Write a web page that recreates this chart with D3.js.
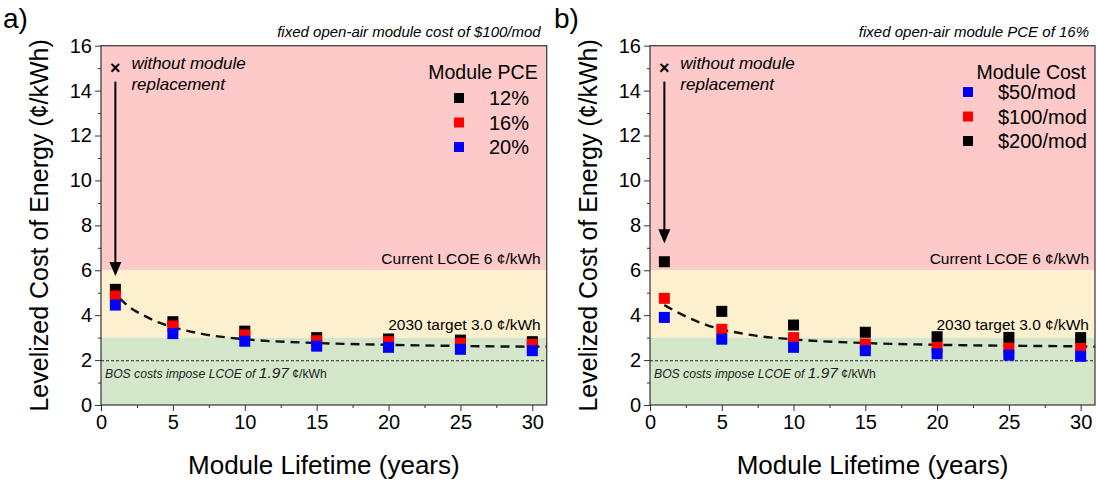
<!DOCTYPE html>
<html>
<head>
<meta charset="utf-8">
<script src="https://cdn.jsdelivr.net/npm/d3@7"></script>
<style>
  body { margin: 0; background: #fff; }
  svg text { font-family: "Liberation Sans", Arial, sans-serif; }
</style>
</head>
<body>
<svg id="chart" width="1097" height="484"></svg>
<script>
// lifetimes (years)
const lifetimes = [1, 5, 10, 15, 20, 25, 30];

// panel a: module PCE series
const pce12 = [5.15, 3.71, 3.29, 3.0, 2.94, 2.89, 2.82];
const pce16 = [4.85, 3.52, 3.12, 2.86, 2.82, 2.75, 2.70];
const pce20 = [4.45, 3.18, 2.84, 2.62, 2.57, 2.48, 2.42];

// panel b: module cost series
const cost50 = [3.90, 2.93, 2.57, 2.42, 2.28, 2.22, 2.17];
const cost100 = [4.75, 3.37, 3.00, 2.72, 2.57, 2.53, 2.52];
const cost200 = [6.38, 4.17, 3.56, 3.24, 3.04, 3.01, 3.00];

// dashed trend line
const trendA = [[1.3, 4.75], [2, 4.35], [3, 3.98], [4, 3.68], [5, 3.47], [7, 3.17], [10, 2.93], [15, 2.76], [20, 2.68], [25, 2.63], [30, 2.6], [31, 2.6]];
const trendB = [[1.0, 4.45], [2, 4.1], [3, 3.8], [4, 3.55], [5, 3.37], [7, 3.12], [10, 2.92], [15, 2.76], [20, 2.68], [25, 2.64], [30, 2.61], [31, 2.6]];

const xTicks = [0, 5, 10, 15, 20, 25, 30];
const yTicks = [0, 2, 4, 6, 8, 10, 12, 14, 16];
const currentLCOE = 6, target2030 = 3.0, bosLCOE = 1.97;

const svg = d3.select('#chart');

function drawPanel(opt) {
    const x = d3.scaleLinear().domain([0, 31]).range([opt.left, opt.right]);
    const y = d3.scaleLinear().domain([0, 16]).range([405, 45.7]);
    const g = svg.append('g');

    // background bands
    const bands = [[currentLCOE, 16, '#fdc9c9'], [target2030, currentLCOE, '#fdf0cf'], [0, target2030, '#d5e7ca']];
    bands.forEach(b => {
        g.append('rect')
            .attr('x', x(0)).attr('width', x(31) - x(0))
            .attr('y', y(b[1])).attr('height', y(b[0]) - y(b[1]))
            .attr('fill', b[2]);
    });

    // BOS floor line
    g.append('line')
        .attr('x1', x(0)).attr('x2', x(31))
        .attr('y1', y(bosLCOE)).attr('y2', y(bosLCOE))
        .attr('stroke', '#222').attr('stroke-width', 1).attr('stroke-dasharray', '3,2');

    // dashed trend
    g.append('path')
        .datum(opt.trend)
        .attr('d', d3.line().x(d => x(d[0])).y(d => y(d[1])).curve(d3.curveMonotoneX))
        .attr('fill', 'none').attr('stroke', '#111').attr('stroke-width', 2.4)
        .attr('stroke-dasharray', '9,6');

    // markers
    opt.series.forEach(s => {
        g.selectAll(null).data(s.values).enter().append('rect')
            .attr('x', (d, i) => x(lifetimes[i]) - 5.5)
            .attr('y', d => y(d) - 5.5)
            .attr('width', 11).attr('height', 11)
            .attr('fill', s.color);
    });

    // zone labels
    g.append('text').attr('x', x(31) - 6).attr('y', y(currentLCOE) - 6)
        .attr('text-anchor', 'end').attr('font-size', 15.5).text('Current LCOE 6 ¢/kWh');
    g.append('text').attr('x', x(31) - 6).attr('y', y(target2030) - 8)
        .attr('text-anchor', 'end').attr('font-size', 15.5).text('2030 target 3.0 ¢/kWh');
    const bos = g.append('text').attr('x', x(0) + 4).attr('y', y(bosLCOE) + 17)
        .attr('font-size', 12.2).attr('font-style', 'italic').attr('fill', '#222');
    bos.append('tspan').text('BOS costs impose LCOE of ');
    bos.append('tspan').attr('font-size', 15.5).text('1.97');
    bos.append('tspan').attr('font-style', 'normal').text(' ¢/kWh');

    // no-replacement marker and arrow
    g.append('text').attr('x', x(1)).attr('y', y(15) + 6)
        .attr('text-anchor', 'middle').attr('font-size', 18).attr('font-weight', 'bold').text('×');
    g.append('text').attr('x', x(1) + 16).attr('y', y(15) + 1)
        .attr('font-size', 17).attr('font-style', 'italic').text('without module');
    g.append('text').attr('x', x(1) + 16).attr('y', y(15) + 22)
        .attr('font-size', 17).attr('font-style', 'italic').text('replacement');
    g.append('line').attr('x1', x(1)).attr('x2', x(1))
        .attr('y1', y(14.4)).attr('y2', y(opt.arrowTo) - 12)
        .attr('stroke', '#000').attr('stroke-width', 2);
    g.append('path')
        .attr('d', `M${x(1) - 6},${y(opt.arrowTo) - 14} L${x(1) + 6},${y(opt.arrowTo) - 14} L${x(1)},${y(opt.arrowTo)} Z`)
        .attr('fill', '#000');

    // legend
    g.append('text').attr('x', opt.right - 9).attr('y', 79)
        .attr('text-anchor', 'end').attr('font-size', 19.5).text(opt.legendTitle);
    opt.series.slice().sort((a, b) => a.legendOrder - b.legendOrder).forEach((s, i) => {
        const cy = opt.legendY0 + i * 24.5;
        g.append('rect').attr('x', opt.legendSq - 5).attr('y', cy - 5)
            .attr('width', 10).attr('height', 10).attr('fill', s.color);
        g.append('text').attr('x', opt.legendSq + 30).attr('y', cy + 7)
            .attr('font-size', 20).text(s.label);
    });

    // axes
    const xAxis = d3.axisBottom(x).tickValues(xTicks).tickSize(6).tickPadding(4);
    const xa = g.append('g').attr('transform', 'translate(0,405)').call(xAxis);
    xa.selectAll('text').attr('font-size', 20).attr('fill', '#000');
    xa.select('.domain').remove();
    g.append('g').attr('transform', 'translate(0,405)')
        .call(d3.axisBottom(x).tickValues([2.5, 7.5, 12.5, 17.5, 22.5, 27.5]).tickSize(3).tickFormat(''))
        .select('.domain').remove();

    const yAxis = d3.axisLeft(y).tickValues(yTicks).tickSize(6).tickPadding(3);
    const ya = g.append('g').attr('transform', `translate(${opt.left},0)`).call(yAxis);
    ya.selectAll('text').attr('font-size', 20).attr('fill', '#000');
    ya.select('.domain').remove();
    g.append('g').attr('transform', `translate(${opt.left},0)`)
        .call(d3.axisLeft(y).tickValues([1, 3, 5, 7, 9, 11, 13, 15]).tickSize(3).tickFormat(''))
        .select('.domain').remove();
    g.selectAll('.tick line').attr('stroke', '#333');

    // frame
    g.append('rect').attr('x', x(0)).attr('y', y(16))
        .attr('width', x(31) - x(0)).attr('height', y(0) - y(16))
        .attr('fill', 'none').attr('stroke', '#333').attr('stroke-width', 1.2);

    // titles
    g.append('text').attr('x', opt.right - 6).attr('y', 37)
        .attr('text-anchor', 'end').attr('font-size', 15).attr('font-style', 'italic')
        .text(opt.note);
    g.append('text').attr('x', opt.panelX).attr('y', 28)
        .attr('font-size', 28).text(opt.tag);
    g.append('text')
        .attr('transform', `translate(${opt.left - 53},${(y(0) + y(16)) / 2}) rotate(-90)`)
        .attr('text-anchor', 'middle').attr('font-size', 25)
        .text('Levelized Cost of Energy (¢/kWh)');
    g.append('text').attr('x', (x(0) + x(31)) / 2).attr('y', 474)
        .attr('text-anchor', 'middle').attr('font-size', 26)
        .text('Module Lifetime (years)');
}

drawPanel({
    left: 101, right: 546.7, tag: 'a)', panelX: 3,
    note: 'fixed open-air module cost of $100/mod',
    legendTitle: 'Module PCE', legendSq: 459, legendY0: 98,
    arrowTo: 5.75, trend: trendA,
    series: [
        { values: pce12, color: '#000000', label: '12%', legendOrder: 0 },
        { values: pce16, color: '#ff0000', label: '16%', legendOrder: 1 },
        { values: pce20, color: '#0000ff', label: '20%', legendOrder: 2 }
    ]
});

drawPanel({
    left: 650, right: 1095, tag: 'b)', panelX: 554,
    note: 'fixed open-air module PCE of 16%',
    legendTitle: 'Module Cost', legendSq: 968, legendY0: 92,
    arrowTo: 7.2, trend: trendB,
    series: [
        { values: cost200, color: '#000000', label: '$200/mod', legendOrder: 2 },
        { values: cost100, color: '#ff0000', label: '$100/mod', legendOrder: 1 },
        { values: cost50, color: '#0000ff', label: '$50/mod', legendOrder: 0 }
    ]
});
</script>
</body>
</html>
